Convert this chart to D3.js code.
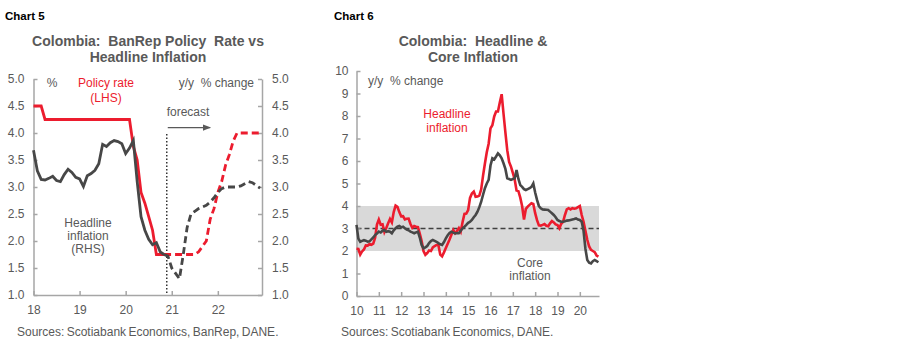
<!DOCTYPE html>
<html>
<head>
<meta charset="UTF-8">
<title>Colombia policy rate and inflation</title>
<script src="https://cdn.jsdelivr.net/npm/d3@7"></script>
<style>
body { margin: 0; background: #fff; }
text { font-family: "Liberation Sans", Arial, sans-serif; white-space: pre; }
.axis .domain, .axis .tick line { stroke: #a6a6a6; stroke-width: 1.5px; }
.axis text { font-size: 12px; fill: #595959; font-family: "Liberation Sans", Arial, sans-serif; }
.lbl { font-size: 12px; fill: #595959; }
.red { fill: #ec1c2e; }
.title { font-size: 14px; font-weight: bold; fill: #595959; }
.chartno { font-size: 11.5px; font-weight: bold; fill: #000; }
.src { font-size: 12px; fill: #595959; word-spacing: -1px; }
</style>
</head>
<body>
<script>
// ---- Chart 5 data: monthly, index 0 = Jan 2018 ----
var c5Years = ["18", "19", "20", "21", "22"];
var c5YearIdx = [0, 12, 24, 36, 48];
var c5PolicyActual = [4.5, 4.5, 4.5,
  4.25, 4.25, 4.25, 4.25, 4.25, 4.25, 4.25, 4.25, 4.25,
  4.25, 4.25, 4.25, 4.25, 4.25, 4.25, 4.25, 4.25, 4.25, 4.25, 4.25, 4.25,
  4.25, 4.25, 3.75, 3.5, 2.9, 2.7, 2.45, 2.2, 1.75, 1.75, 1.75];
var c5PolicyFcst = [1.75, 1.75, 1.75, 1.75, 1.75, 1.75, 1.75, 1.75, 1.75,
  1.8, 1.9, 2.0, 2.4, 2.6, 2.9, 3.1, 3.4, 3.6, 3.85, 4.0,
  4.0, 4.0, 4.0, 4.0, 4.0, 4.0];
var c5InflActual = [3.68, 3.3, 3.14, 3.13, 3.16, 3.20, 3.12, 3.10, 3.23, 3.33, 3.27, 3.18,
  3.15, 3.01, 3.21, 3.25, 3.31, 3.43, 3.79, 3.75, 3.82, 3.86, 3.84, 3.80,
  3.62, 3.72, 3.86, 3.1, 2.45, 2.2, 2.03, 1.93, 1.97, 1.8, 1.75];
var c5InflFcst = [1.75, 1.72, 1.5, 1.4, 1.3, 1.75, 2.25, 2.5, 2.55, 2.6, 2.63, 2.66,
  2.72, 2.8, 2.9, 2.97, 3.0, 3.0, 3.0, 3.0, 3.02, 3.06, 3.1, 3.08, 3.03, 2.98];
var c5FcstStart = 34;      // first month of forecast series
var c5FcstMark = 34.7;     // dotted forecast divider

// ---- Chart 6 data: monthly, index 0 = Jan 2010 ----
var c6Years = ["10", "11", "12", "13", "14", "15", "16", "17", "18", "19", "20"];
var c6YearIdx = [0, 12, 24, 36, 48, 60, 72, 84, 96, 108, 120];
var c6Headline = [
  2.10, 2.09, 1.84, 1.98, 2.07, 2.25, 2.24, 2.31, 2.28, 2.33, 2.59, 3.17,
  3.40, 3.17, 3.19, 2.84, 3.02, 3.23, 3.42, 3.27, 3.73, 4.02, 3.96, 3.73,
  3.54, 3.55, 3.40, 3.43, 3.44, 3.20, 3.03, 3.11, 3.08, 3.06, 2.77, 2.44,
  2.00, 1.83, 1.91, 2.02, 2.00, 2.16, 2.22, 2.27, 2.27, 1.84, 1.76, 1.94,
  2.13, 2.32, 2.51, 2.72, 2.93, 2.79, 2.89, 3.02, 2.86, 3.29, 3.65, 3.66,
  3.82, 4.36, 4.56, 4.64, 4.41, 4.42, 4.46, 4.74, 5.35, 5.89, 6.39, 6.77,
  7.45, 7.59, 7.98, 8.20, 8.20, 8.60, 8.97, 8.10, 7.27, 6.48, 5.96, 5.75,
  5.47, 5.18, 4.69, 4.66, 4.37, 3.99, 3.40, 3.87, 3.97, 4.05, 4.12, 4.09,
  3.68, 3.37, 3.14, 3.13, 3.16, 3.20, 3.12, 3.10, 3.23, 3.33, 3.27, 3.18,
  3.15, 3.01, 3.21, 3.30, 3.60, 3.85, 3.90, 3.85, 3.90, 3.88, 3.90, 3.95,
  4.00, 3.60, 3.30, 2.90, 2.50, 2.20, 2.05, 2.00, 1.95, 1.80, 1.75];
var c6Core = [
  3.16, 2.55, 2.41, 2.45, 2.48, 2.46, 2.42, 2.43, 2.52, 2.60, 2.71, 2.78,
  2.86, 2.82, 2.90, 2.93, 2.85, 2.88, 2.86, 2.79, 2.92, 3.01, 3.08, 3.11,
  3.05, 3.08, 3.01, 2.95, 2.92, 2.86, 2.83, 2.79, 2.83, 2.86, 2.60, 2.27,
  2.12, 2.16, 2.22, 2.35, 2.44, 2.49, 2.45, 2.41, 2.35, 2.30, 2.27, 2.40,
  2.56, 2.70, 2.80, 2.86, 2.82, 2.78, 2.80, 2.79, 2.90, 3.01, 3.08, 3.16,
  3.25, 3.30, 3.38, 3.50, 3.60, 3.75, 3.95, 4.19, 4.50, 4.79, 5.00, 5.16,
  5.80, 6.12, 6.07, 6.20, 6.34, 6.25, 6.12, 5.90, 5.65, 5.23, 5.20, 5.16,
  5.20, 5.23, 5.60, 5.20, 4.93, 4.85, 4.75, 4.71, 4.75, 4.79, 4.85, 5.00,
  4.60, 4.27, 4.00, 3.90, 3.85, 3.84, 3.83, 3.82, 3.75, 3.68, 3.60, 3.50,
  3.38, 3.33, 3.30, 3.30, 3.32, 3.35, 3.36, 3.38, 3.40, 3.42, 3.45, 3.40,
  3.38, 3.30, 2.90, 2.10, 1.60, 1.48, 1.45, 1.55, 1.60, 1.55, 1.50];
var c6Band = [2, 4];
var c6Target = 3;

var RED = "#ec1c2e", GREY = "#474747";

var svg = d3.select("body").append("svg")
  .attr("width", 900).attr("height", 346);

// ================= Chart 5 =================
var g5 = svg.append("g");
var x5 = d3.scaleLinear().domain([0, 59.5]).range([33.5, 262]);
var y5 = d3.scaleLinear().domain([1, 5]).range([295, 79]);

g5.append("text").attr("class", "chartno").attr("x", 5).attr("y", 20).text("Chart 5");
g5.append("text").attr("class", "title").attr("x", 148).attr("y", 46)
  .style("text-anchor", "middle").text("Colombia:  BanRep Policy  Rate vs");
g5.append("text").attr("class", "title").attr("x", 148).attr("y", 62)
  .style("text-anchor", "middle").text("Headline Inflation");

g5.append("g").attr("class", "axis").attr("transform", "translate(33.5,0)")
  .call(d3.axisLeft(y5).tickValues(d3.range(1, 5.01, 0.5)).tickFormat(d3.format(".1f"))
    .tickSize(-4).tickSizeOuter(0).tickPadding(9));
g5.append("g").attr("class", "axis").attr("transform", "translate(262,0)")
  .call(d3.axisRight(y5).tickValues(d3.range(1, 5.01, 0.5)).tickFormat(d3.format(".1f"))
    .tickSize(-4).tickSizeOuter(0).tickPadding(10));
g5.append("g").attr("class", "axis").attr("transform", "translate(0,295)")
  .call(d3.axisBottom(x5).tickValues(c5YearIdx).tickFormat(function(d, i) { return c5Years[i]; })
    .tickSize(-4).tickSizeOuter(0).tickPadding(10));

var line5 = function(start) {
  return d3.line()
    .x(function(d, i) { return x5(start + i); })
    .y(function(d) { return y5(d); });
};

// forecast divider and arrow
g5.append("line")
  .attr("x1", x5(c5FcstMark)).attr("x2", x5(c5FcstMark))
  .attr("y1", y5(3.98)).attr("y2", y5(1))
  .style("stroke", "#333").style("stroke-width", 1.5).style("stroke-dasharray", "1.5,2");
svg.append("defs").append("marker").attr("id", "arr")
  .attr("viewBox", "0 0 10 10").attr("refX", 9).attr("refY", 5)
  .attr("markerWidth", 7).attr("markerHeight", 7).attr("orient", "auto")
  .append("path").attr("d", "M0,1L10,5L0,9Z").style("fill", "#595959");
g5.append("line")
  .attr("x1", x5(c5FcstMark) + 1).attr("x2", x5(46))
  .attr("y1", y5(4.1)).attr("y2", y5(4.1))
  .style("stroke", "#595959").style("stroke-width", 1.2).attr("marker-end", "url(#arr)");
g5.append("text").attr("class", "lbl").attr("x", 188).attr("y", 116)
  .style("text-anchor", "middle").text("forecast");

g5.append("path").attr("d", line5(0)(c5PolicyActual))
  .style("fill", "none").style("stroke", RED).style("stroke-width", 2.8);
g5.append("path").attr("d", line5(c5FcstStart)(c5PolicyFcst))
  .style("fill", "none").style("stroke", RED).style("stroke-width", 2.8).style("stroke-dasharray", "7,4");
g5.append("path").attr("d", line5(0)(c5InflActual))
  .style("fill", "none").style("stroke", GREY).style("stroke-width", 2.8);
g5.append("path").attr("d", line5(c5FcstStart)(c5InflFcst))
  .style("fill", "none").style("stroke", GREY).style("stroke-width", 2.8).style("stroke-dasharray", "7,4");

g5.append("text").attr("class", "lbl").attr("x", 52).attr("y", 87)
  .style("text-anchor", "middle").text("%");
g5.append("text").attr("class", "lbl red").attr("x", 106).attr("y", 87)
  .style("text-anchor", "middle").text("Policy rate");
g5.append("text").attr("class", "lbl red").attr("x", 106).attr("y", 102)
  .style("text-anchor", "middle").text("(LHS)");
g5.append("text").attr("class", "lbl").attr("x", 254).attr("y", 87)
  .style("text-anchor", "end").text("y/y  % change");
g5.append("text").attr("class", "lbl").attr("x", 88).attr("y", 227)
  .style("text-anchor", "middle").text("Headline");
g5.append("text").attr("class", "lbl").attr("x", 88).attr("y", 240)
  .style("text-anchor", "middle").text("inflation");
g5.append("text").attr("class", "lbl").attr("x", 88).attr("y", 253)
  .style("text-anchor", "middle").text("(RHS)");
g5.append("text").attr("class", "src").attr("x", 17).attr("y", 336)
  .text("Sources: Scotiabank Economics, BanRep, DANE.");

// ================= Chart 6 =================
var g6 = svg.append("g");
var x6 = d3.scaleLinear().domain([0, 130.3]).range([356.5, 599]);
var y6 = d3.scaleLinear().domain([0, 10]).range([296, 71]);

g6.append("text").attr("class", "chartno").attr("x", 334).attr("y", 20).text("Chart 6");
g6.append("text").attr("class", "title").attr("x", 473).attr("y", 46)
  .style("text-anchor", "middle").text("Colombia:  Headline &");
g6.append("text").attr("class", "title").attr("x", 473).attr("y", 62)
  .style("text-anchor", "middle").text("Core Inflation");

g6.append("rect")
  .attr("x", x6(0)).attr("width", x6(130.3) - x6(0))
  .attr("y", y6(c6Band[1])).attr("height", y6(c6Band[0]) - y6(c6Band[1]))
  .style("fill", "#d9d9d9");
g6.append("line")
  .attr("x1", x6(0)).attr("x2", x6(130.3))
  .attr("y1", y6(c6Target)).attr("y2", y6(c6Target))
  .style("stroke", "#404040").style("stroke-width", 1.5).style("stroke-dasharray", "5,3");

g6.append("g").attr("class", "axis").attr("transform", "translate(356.5,0)")
  .call(d3.axisLeft(y6).tickValues(d3.range(0, 11)).tickFormat(d3.format("d"))
    .tickSize(-4).tickSizeOuter(0).tickPadding(8));
g6.append("g").attr("class", "axis").attr("transform", "translate(0,296)")
  .call(d3.axisBottom(x6).tickValues(c6YearIdx).tickFormat(function(d, i) { return c6Years[i]; })
    .tickSize(-4).tickSizeOuter(0).tickPadding(10));

var line6 = d3.line()
  .x(function(d, i) { return x6(i); })
  .y(function(d) { return y6(d); });
g6.append("path").attr("d", line6(c6Headline))
  .style("fill", "none").style("stroke", RED).style("stroke-width", 2.6);
g6.append("path").attr("d", line6(c6Core))
  .style("fill", "none").style("stroke", GREY).style("stroke-width", 2.6);

g6.append("text").attr("class", "lbl").attr("x", 368).attr("y", 85).text("y/y  % change");
g6.append("text").attr("class", "lbl red").attr("x", 447).attr("y", 118)
  .style("text-anchor", "middle").text("Headline");
g6.append("text").attr("class", "lbl red").attr("x", 447).attr("y", 132)
  .style("text-anchor", "middle").text("inflation");
g6.append("text").attr("class", "lbl").attr("x", 530).attr("y", 267)
  .style("text-anchor", "middle").text("Core");
g6.append("text").attr("class", "lbl").attr("x", 530).attr("y", 280)
  .style("text-anchor", "middle").text("inflation");
g6.append("text").attr("class", "src").attr("x", 341).attr("y", 336)
  .text("Sources: Scotiabank Economics, DANE.");
</script>
</body>
</html>
